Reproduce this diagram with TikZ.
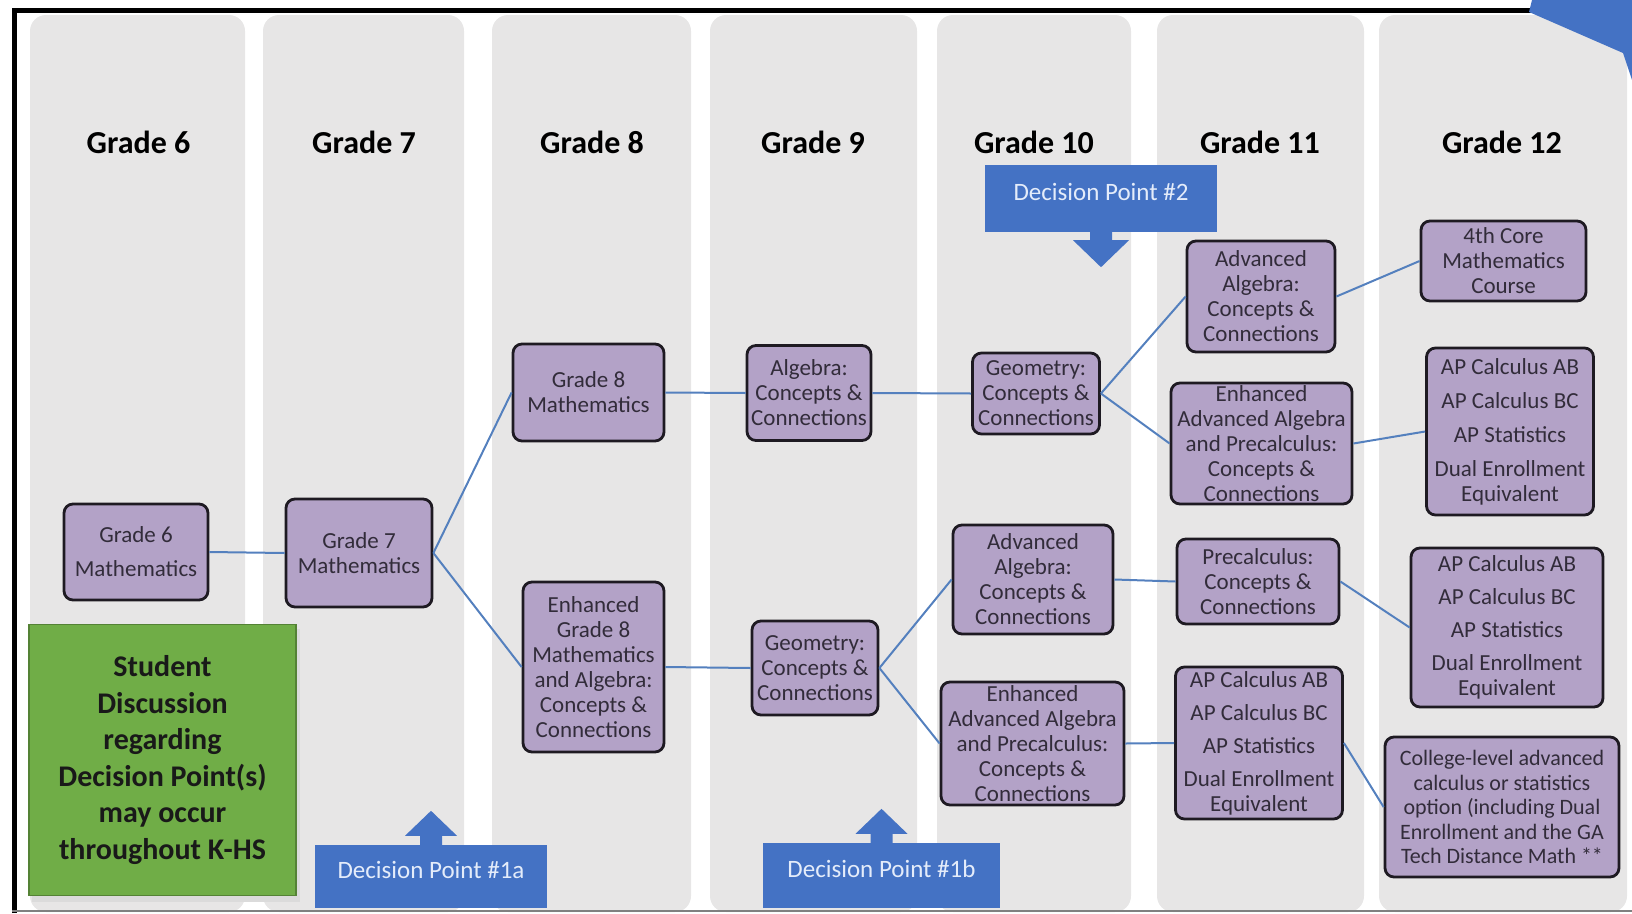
\documentclass[tikz,border=0pt]{standalone}
\usepackage{fontspec}
\setmainfont{Carlito}
\usepackage{xcolor}
\usepackage{tikz}

\definecolor{colgray}{RGB}{231,230,230}
\definecolor{coursefill}{RGB}{179,162,199}
\definecolor{courseline}{RGB}{30,26,34}
\definecolor{coursetext}{RGB}{50,44,58}
\definecolor{linkblue}{RGB}{84,128,190}
\definecolor{dpblue}{RGB}{68,114,196}
\definecolor{dptext}{RGB}{228,236,250}
\definecolor{talkgreen}{RGB}{112,173,71}
\definecolor{talkline}{RGB}{84,130,53}

\begin{document}
\begin{tikzpicture}[x=1pt, y=-1pt,
  course/.style={draw=courseline, line width=2.8pt, fill=coursefill, rounded corners=9pt,
    align=center, text=coursetext, inner sep=1pt, font=\fontsize{23}{25}\selectfont},
  hdr/.style={font=\fontsize{32}{36}\selectfont\bfseries, anchor=base},
  link/.style={linkblue, line width=2pt},
  decision/.style={fill=dpblue, text=dptext, inner sep=0pt, font=\fontsize{25}{29}\selectfont,
    text height=16pt, text depth=13pt}]
  \useasboundingbox (0,0) rectangle (1632,913);

  % Grade columns
  \foreach \xa/\xb in {30/245, 263/464, 492/691, 710/917, 937/1131, 1157/1364, 1379/1627}
    \fill[colgray, rounded corners=16pt] (\xa,15) rectangle (\xb,912);
  \foreach \xc/\g in {138.5/6, 364/7, 592/8, 813/9, 1034/10, 1260/11, 1502/12}
    \node[hdr] (hdr\g) at (\xc,153) {Grade \g};

  % Frame
  \draw[line width=5pt] (14.5,913) -- (14.5,10.5) -- (1533,10.5);
  \fill[dpblue] (1532,0) -- (1529,12) -- (1623,53) -- (1632,80) -- (1632,0) -- cycle;
  \draw[gray, line width=2pt] (12,911) -- (1632,911);

  % Upper track
  \node[course, minimum width=144, minimum height=96] (g6) at (136,552) {Grade 6\\[9pt]Mathematics};
  \node[course, minimum width=146, minimum height=108] (g7) at (359,553) {Grade 7\\Mathematics};
  \node[course, minimum width=151, minimum height=97] (g8) at (588.5,392.5) {Grade 8\\Mathematics};
  \node[course, minimum width=124, minimum height=95] (alg9) at (809,393) {Algebra:\\Concepts \&\\Connections};
  \node[course, minimum width=127, minimum height=81] (geo10) at (1036,393.5) {Geometry:\\Concepts \&\\Connections};
  \node[course, minimum width=148, minimum height=111] (adv11) at (1261,296.5) {Advanced\\Algebra:\\Concepts \&\\Connections};
  \node[course, minimum width=181, minimum height=121] (enh11) at (1261.5,443.5)
    {Enhanced\\Advanced Algebra\\and Precalculus:\\Concepts \&\\Connections};
  \node[course, minimum width=165, minimum height=80] (core12) at (1503.5,261) {4th Core\\Mathematics\\Course};
  \node[course, minimum width=167, minimum height=167] (ap12a) at (1510,431.5)
    {AP Calculus AB\\[9pt]AP Calculus BC\\[9pt]AP Statistics\\[9pt]Dual Enrollment\\Equivalent};

  % Enhanced track
  \node[course, minimum width=141, minimum height=170] (enh8) at (593.5,667)
    {Enhanced\\Grade 8\\Mathematics\\and Algebra:\\Concepts \&\\Connections};
  \node[course, minimum width=126, minimum height=94] (geo9) at (815,668) {Geometry:\\Concepts \&\\Connections};
  \node[course, minimum width=160, minimum height=109] (adv10) at (1033,579.5) {Advanced\\Algebra:\\Concepts \&\\Connections};
  \node[course, minimum width=183, minimum height=123] (enh10) at (1032.5,743.5)
    {Enhanced\\Advanced Algebra\\and Precalculus:\\Concepts \&\\Connections};
  \node[course, minimum width=162, minimum height=85] (pre11) at (1258,581.5) {Precalculus:\\Concepts \&\\Connections};
  \node[course, minimum width=167, minimum height=152] (ap11) at (1259,743)
    {AP Calculus AB\\[8pt]AP Calculus BC\\[8pt]AP Statistics\\[8pt]Dual Enrollment\\Equivalent};
  \node[course, minimum width=192, minimum height=159] (ap12b) at (1507,627.5)
    {AP Calculus AB\\[8pt]AP Calculus BC\\[8pt]AP Statistics\\[8pt]Dual Enrollment\\Equivalent};
  \node[course, minimum width=234, minimum height=140, font=\fontsize{22}{24.5}\selectfont] (coll12) at (1502,807)
    {College-level advanced\\calculus or statistics\\option (including Dual\\Enrollment and the GA\\Tech Distance Math **};

  \foreach \a/\b in {g6/g7, g7/g8, g7/enh8, g8/alg9, alg9/geo10, geo10/adv11, geo10/enh11,
      adv11/core12, enh11/ap12a, enh8/geo9, geo9/adv10, geo9/enh10, adv10/pre11,
      enh10/ap11, pre11/ap12b, ap11/coll12}
    \draw[link] (\a.east) -- (\b.west);

  % Discussion note
  \fill[black!14] (32,629) rectangle (300,902);
  \node[draw=talkline, line width=1.5pt, fill=talkgreen, minimum width=267, minimum height=271,
    align=center, font=\fontsize{30}{36.5}\selectfont\bfseries, text=black!90, inner sep=0pt]
    (talk) at (162.5,760) {Student\\Discussion\\regarding\\Decision Point(s)\\may occur\\throughout K-HS};

  % Decision points
  \node[decision, minimum width=232, minimum height=67] (dp2) at (1101,198.5) {Decision Point \#2};
  \fill[dpblue] (dp2.south) ++(-11,-1) -- ++(0,9) -- ++(-17,0) -- ++(28,27) -- ++(28,-27)
    -- ++(-17,0) -- ++(0,-9) -- cycle;
  \node[decision, minimum width=232, minimum height=63] (dp1a) at (431,876.5) {Decision Point \#1a};
  \fill[dpblue] (dp1a.north) ++(-11,1) -- ++(0,-10) -- ++(-15,0) -- ++(26,-25) -- ++(26,25)
    -- ++(-15,0) -- ++(0,10) -- cycle;
  \node[decision, minimum width=237, minimum height=65] (dp1b) at (881.5,875.5) {Decision Point \#1b};
  \fill[dpblue] (dp1b.north) ++(-11,1) -- ++(0,-10) -- ++(-15,0) -- ++(26,-25) -- ++(26,25)
    -- ++(-15,0) -- ++(0,10) -- cycle;
\end{tikzpicture}
\end{document}
